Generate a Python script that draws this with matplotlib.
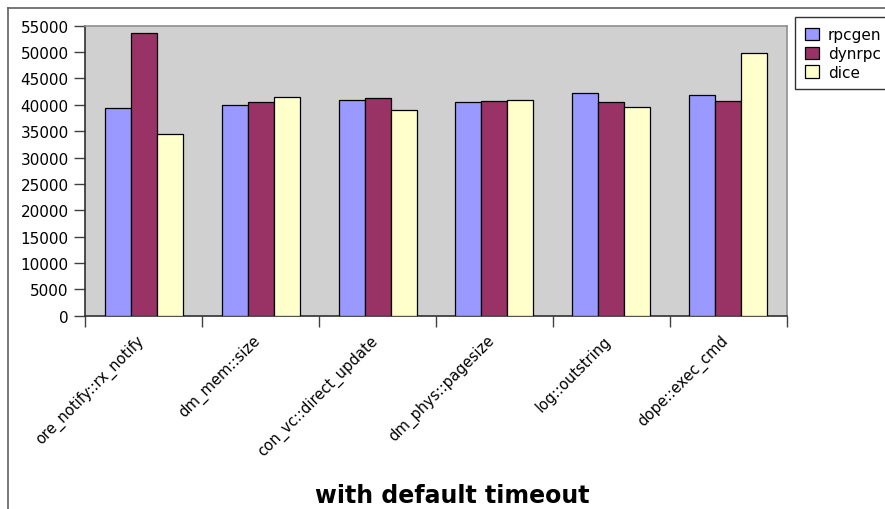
import matplotlib
matplotlib.use("Agg")
import matplotlib.pyplot as plt
import numpy as np
from matplotlib.lines import Line2D

categories = ["ore_notify::rx_notify", "dm_mem::size", "con_vc::direct_update",
              "dm_phys::pagesize", "log::outstring", "dope::exec_cmd"]
series_names = ["rpcgen", "dynrpc", "dice"]
rpcgen = [39300, 39900, 40900, 40500, 42200, 41900]
dynrpc = [53600, 40500, 41200, 40700, 40600, 40700]
dice = [34400, 41500, 39000, 41000, 39600, 49900]
colors = ["#9999FF", "#993366", "#FFFFCC"]
yticks = list(range(0, 55001, 5000))
title = "with default timeout"

plt.rcParams['font.family'] = ['DejaVu Sans']
W, H = 885, 510
fig = plt.figure(figsize=(W / 100, H / 100), dpi=100)
ax = fig.add_axes([85.3 / W, 1 - 316.7 / H, (786.7 - 85.3) / W, (316.7 - 26.7) / H])
ax.set_facecolor("#D0D0D0")

x = np.arange(len(categories))
bw = 1 / 4.5
for i, (vals, name, c) in enumerate(zip([rpcgen, dynrpc, dice], series_names, colors)):
    ax.bar(x + (i - 1) * bw, vals, width=bw, color=c, edgecolor="black",
           linewidth=0.9, label=name, zorder=3)

ax.set_xlim(-0.5, len(categories) - 0.5)
ax.set_ylim(0, 55000)
ax.set_yticks(yticks)
ax.set_yticklabels([str(v) for v in yticks])
ax.set_xticks(np.arange(len(categories) + 1) - 0.5)
ax.set_xticklabels([])
ax.set_xticks(x - 0.02, minor=True)
ax.set_xticklabels(categories, minor=True, rotation=45, ha="right", va="center",
                   rotation_mode="anchor", fontsize=10.6)
ax.tick_params(axis="x", which="minor", length=0, pad=16)
ax.tick_params(axis="x", which="major", direction="out", length=8, width=1, color="#404040")
ax.tick_params(axis="y", direction="out", length=8, width=1, color="#404040", labelsize=11, pad=4)

for s in ["top", "right"]:
    ax.spines[s].set_color("#909090")
    ax.spines[s].set_linewidth(1.2)
for s in ["left", "bottom"]:
    ax.spines[s].set_color("#303030")
    ax.spines[s].set_linewidth(1.2)

leg = fig.legend(loc="upper left", bbox_to_anchor=(795 / W, 1 - 18.3 / H),
                 frameon=True, fancybox=False, edgecolor="black", fontsize=11,
                 handlelength=0.92, handleheight=0.85, handletextpad=0.6,
                 labelspacing=0.26, borderpad=0.63, borderaxespad=0)
leg.get_frame().set_linewidth(1.0)

fig.text(452 / W, 1 - 503 / H, title, ha="center", va="baseline",
         fontsize=17, fontweight="bold")

fig.add_artist(Line2D([8.3 / W, 8.3 / W], [0, 1 - 9.3 / H], transform=fig.transFigure,
                      color="#606060", linewidth=1.2))
fig.add_artist(Line2D([8.3 / W, 1], [1 - 9.3 / H, 1 - 9.3 / H], transform=fig.transFigure,
                      color="#606060", linewidth=1.2))

fig.savefig("out.png", dpi=100)
